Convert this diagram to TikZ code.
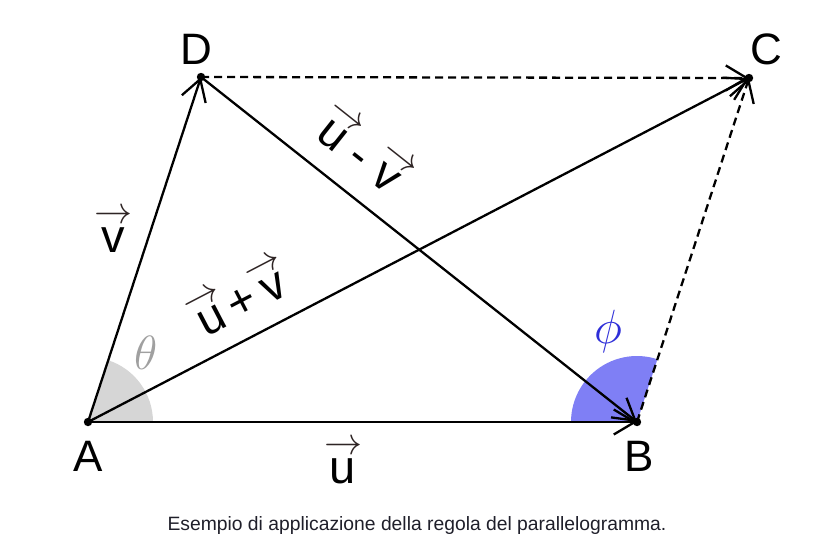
\RequirePackage{fix-cm}
\documentclass[tikz,border=0pt]{standalone}
\usepackage{fontspec}
\setmainfont{Liberation Sans}
\usetikzlibrary{arrows.meta}
\definecolor{thetafill}{HTML}{D6D6D6}
\definecolor{thetatext}{HTML}{A0A0A0}
\definecolor{phifill}{HTML}{7F7FF5}
\definecolor{phitext}{HTML}{2E2ED8}
\definecolor{captext}{HTML}{1F1F2A}
\definecolor{arrc}{HTML}{2E2424}
\newcommand\arrglyph{{\color{arrc}\fontsize{38}{38}\selectfont$\rightarrow$}}
\newcommand\vl[1]{\vbox{\offinterlineskip\halign{\hfil##\hfil\cr\arrglyph\cr\noalign{\kern4pt}#1\cr}}}
\tikzset{
  vecline/.style={line width=2.3pt,-{Straight Barb[length=21pt,width=25pt,line width=2.3pt]}},
  dashline/.style={vecline,dash pattern=on 8pt off 5pt},
  ptlabel/.style={font=\fontsize{44}{44}\selectfont,inner sep=0pt},
  veclabel/.style={font=\fontsize{47}{47}\selectfont,inner sep=0pt,anchor=base},
}
\begin{document}
\begin{tikzpicture}[x=1pt,y=-1pt]
\useasboundingbox (0,0) rectangle (827,552);
\coordinate (A) at (88,422);
\coordinate (B) at (637,422);
\coordinate (C) at (749,78);
\coordinate (D) at (201,77);
% angle sectors
\fill[thetafill] (A) -- ++(65,0) arc[start angle=0,end angle=-71.9,radius=65] -- cycle;
\fill[phifill] (B) -- ++(-72:66) arc[start angle=-72,end angle=-180,radius=66] -- cycle;
% vectors
\draw[dashline] (D) -- (C);
\draw[dashline] (B) -- (C);
\draw[vecline] (A) -- (B);
\draw[vecline] (A) -- (D);
\draw[vecline] (A) -- (C);
\draw[vecline] (D) -- (B);
% dots
\foreach \p in {A,B,C,D} \fill (\p) circle[radius=4.2];
% point labels
\node[ptlabel] (lA) at (88,456) {A};
\node[ptlabel] (lB) at (639,456) {B};
\node[ptlabel] (lC) at (766,49) {C};
\node[ptlabel] (lD) at (196,49) {D};
% vector labels
\node[veclabel] (lu) at (343,483) {\vl{u}};
\node[veclabel] (lv) at (113,252) {\vl{v}};
\node[veclabel,rotate=27.5] (lupv) at (249,315) {\vl{u}\kern2pt+\kern2pt\vl{v}};
\node[veclabel,rotate=-38.4] (lumv) at (351,167) {\vl{u}\kern7pt-\kern7pt\vl{v}};
% angle labels
\node[text=thetatext,font=\fontsize{48}{48}\selectfont,inner sep=0pt] (th) at (146,353) {$\theta$};
\node[text=phitext,font=\fontsize{48}{48}\selectfont,inner sep=0pt] (ph) at (608,331) {$\phi$};
% caption
\node[text=captext,font=\fontsize{19.3}{22}\selectfont,inner sep=0pt] (cap) at (417,526) {Esempio di applicazione della regola del parallelogramma.};
\end{tikzpicture}
\end{document}
